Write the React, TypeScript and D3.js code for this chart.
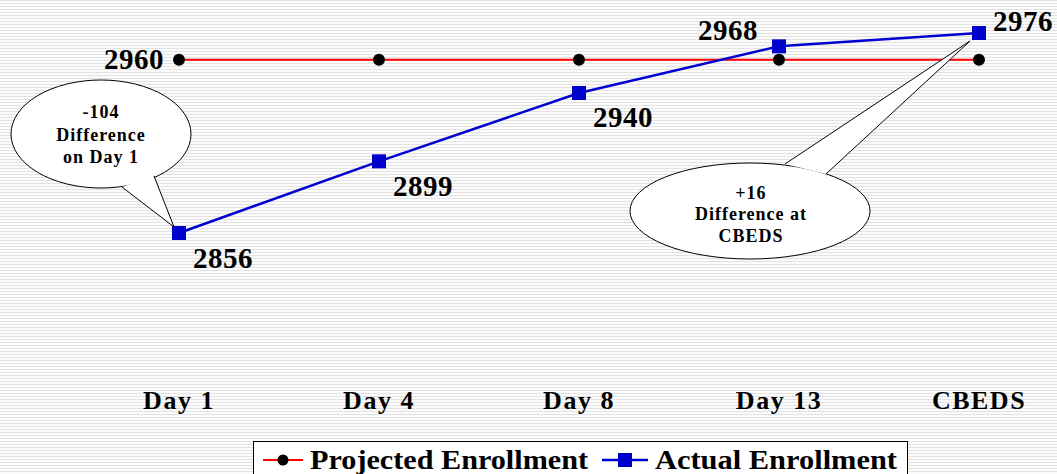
import React from "react";
import * as d3 from "d3";

const categories = ["Day 1", "Day 4", "Day 8", "Day 13", "CBEDS"];
const projected = [2960, 2960, 2960, 2960, 2960];
const actual = [2856, 2899, 2940, 2968, 2976];

const W = 1057;
const H = 474;
const FONT = "'Liberation Serif', 'Times New Roman', serif";

const App: React.FC = () => {
  const x = d3.scalePoint<string>().domain(categories).range([179, 979]);
  const y = d3.scaleLinear().domain([2856, 2976]).range([233, 33]);

  const line = d3
    .line<number>()
    .x((_, i) => x(categories[i])!)
    .y((d) => y(d));

  // label offsets for the actual series (dx, dy relative to point)
  const actualLabelPos = [
    { dx: 44, dy: 35 },
    { dx: 44, dy: 35 },
    { dx: 44, dy: 34 },
    { dx: -51, dy: -6 },
    { dx: 44, dy: -2 },
  ];

  return (
    <svg
      width={W}
      height={H}
      style={{ position: "absolute", left: 0, top: 0 }}
      fontFamily={FONT}
    >
      <defs>
        <pattern id="stripes" width="6" height="3" patternUnits="userSpaceOnUse">
          <rect width="6" height="3" fill="#fbfbfb" />
          <rect width="6" height="1" fill="#e3e3e3" />
        </pattern>
      </defs>
      <rect width={W} height={H} fill="url(#stripes)" />

      {/* projected line */}
      <path d={line(projected)!} fill="none" stroke="#ff0000" strokeWidth={2} />
      {projected.map((v, i) => (
        <circle key={"p" + i} cx={x(categories[i])} cy={y(v)} r={6} fill="#000" />
      ))}

      {/* actual line */}
      <path d={line(actual)!} fill="none" stroke="#0000d0" strokeWidth={2.5} />
      {actual.map((v, i) => (
        <rect
          key={"a" + i}
          x={x(categories[i])! - 7}
          y={y(v) - 7}
          width={14}
          height={14}
          fill="#0000cc"
        />
      ))}

      {/* value labels */}
      <g fontSize={29} fontWeight="bold" letterSpacing={0.5}>
        <text x={x(categories[0])! - 15} y={y(projected[0]) + 9} textAnchor="end">
          {projected[0]}
        </text>
        {actual.map((v, i) => (
          <text
            key={"l" + i}
            x={x(categories[i])! + actualLabelPos[i].dx}
            y={y(v) + actualLabelPos[i].dy}
            textAnchor="middle"
          >
            {v}
          </text>
        ))}
      </g>

      {/* callout 1 */}
      <ellipse cx={101} cy={134} rx={90} ry={54} fill="#fff" stroke="#000" strokeWidth={1} />
      <path
        d={`M 122 187 L ${x(categories[0])! - 5} ${y(actual[0]) - 6} L 154 176 Z`}
        fill="#fff"
        stroke="none"
      />
      <path
        d={`M 122 187 L ${x(categories[0])! - 5} ${y(actual[0]) - 6} L 154 176`}
        fill="none"
        stroke="#000"
        strokeWidth={1}
      />
      <g fontSize={18} fontWeight="bold" textAnchor="middle" letterSpacing={1}>
        <text x={101} y={118}>-104</text>
        <text x={101} y={141}>Difference</text>
        <text x={101} y={163}>on Day 1</text>
      </g>

      {/* callout 2 */}
      <ellipse cx={750} cy={211} rx={120} ry={48} fill="#fff" stroke="#000" strokeWidth={1} />
      <path
        d={`M 785 164 L ${x(categories[4])! - 9} ${y(actual[4]) + 8} L 826 174 Z`}
        fill="#fff"
        stroke="none"
      />
      <path
        d={`M 785 164 L ${x(categories[4])! - 9} ${y(actual[4]) + 8} L 826 174`}
        fill="none"
        stroke="#000"
        strokeWidth={1}
      />
      <g fontSize={18} fontWeight="bold" textAnchor="middle" letterSpacing={1}>
        <text x={751} y={199}>+16</text>
        <text x={751} y={220}>Difference at</text>
        <text x={751} y={242}>CBEDS</text>
      </g>

      {/* category axis labels */}
      <g fontSize={26} fontWeight="bold" textAnchor="middle" letterSpacing={1.5}>
        {categories.map((c) => (
          <text key={c} x={x(c)} y={409}>
            {c}
          </text>
        ))}
      </g>

      {/* legend */}
      <rect x={253.5} y={441.5} width={654} height={40} fill="#fff" stroke="#000" strokeWidth={1} />
      <line x1={263} x2={303} y1={460} y2={460} stroke="#ff0000" strokeWidth={2} />
      <circle cx={283} cy={460} r={5.5} fill="#000" />
      <text
        x={310}
        y={469}
        fontSize={28}
        fontWeight="bold"
        textLength={278}
        lengthAdjust="spacingAndGlyphs"
      >
        Projected Enrollment
      </text>
      <line x1={602} x2={648} y1={460} y2={460} stroke="#0000d0" strokeWidth={2.5} />
      <rect x={618} y={453} width={14} height={14} fill="#0000cc" />
      <text
        x={655}
        y={469}
        fontSize={28}
        fontWeight="bold"
        textLength={242}
        lengthAdjust="spacingAndGlyphs"
      >
        Actual Enrollment
      </text>
    </svg>
  );
};

export default App;
